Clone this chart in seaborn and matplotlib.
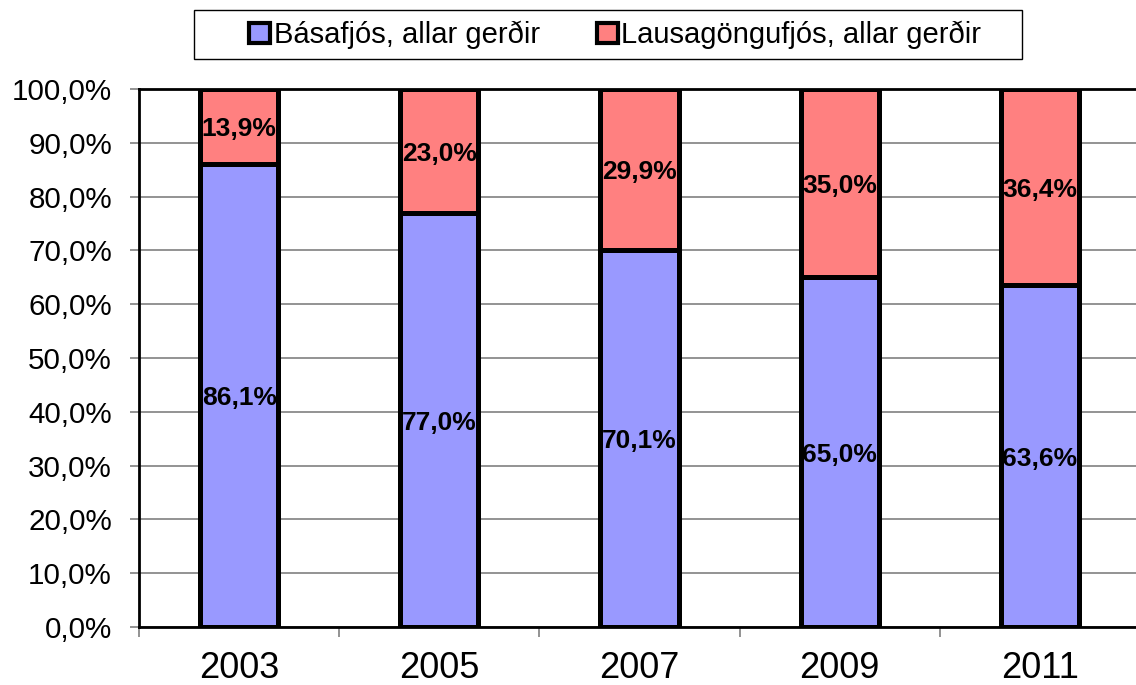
import numpy as np
import pandas as pd
import matplotlib
matplotlib.use("Agg")
import matplotlib.pyplot as plt
import matplotlib.ticker as mticker
from matplotlib.patches import Patch, Rectangle
import seaborn as sns

# ── Data ──────────────────────────────────────────────────────────────────────
years = ["2003", "2005", "2007", "2009", "2011"]
basafjos = [86.1, 77.0, 70.1, 65.0, 63.6]
lausagongufjos = [13.9, 23.0, 29.9, 35.0, 36.4]
series_names = ["Básafjós, allar gerðir", "Lausagöngufjós, allar gerðir"]

BLUE = "#9999FF"
RED = "#FF8080"
EDGE_W = 3.6

sns.set_theme(style="white")
plt.rcParams["font.family"] = ["Liberation Sans", "DejaVu Sans"]
plt.rcParams["text.color"] = "black"
plt.rcParams["xtick.color"] = "black"
plt.rcParams["ytick.color"] = "black"

df = pd.DataFrame({"year": years, "blue": basafjos, "red": lausagongufjos})
df["total"] = df["blue"] + df["red"]

fig = plt.figure(figsize=(11.36, 6.85), dpi=100)
ax = fig.add_axes([0.1224, 0.0847, 0.8811, 0.7853])

# stacked: draw the total (red) first, then the lower segment (blue) over it
sns.barplot(data=df, x="year", y="total", color=RED, width=0.39,
            edgecolor="black", linewidth=EDGE_W, saturation=1, ax=ax)
sns.barplot(data=df, x="year", y="blue", color=BLUE, width=0.39,
            edgecolor="black", linewidth=EDGE_W, saturation=1, ax=ax)

for i, (b, r) in enumerate(zip(basafjos, lausagongufjos)):
    for yc, v in [(b / 2, b), (b + r / 2, r)]:
        ax.annotate(f"{v:.1f}%".replace(".", ","), (i, yc), xytext=(0, -2),
                    textcoords="offset points", ha="center", va="center",
                    fontsize=19, fontweight="bold", color="black")

ax.set_xlim(-0.5, len(years) - 0.5)
ax.set_ylim(0, 100)
ax.set_xlabel("")
ax.set_ylabel("")

ax.yaxis.set_major_locator(mticker.MultipleLocator(10))
ax.yaxis.set_major_formatter(
    mticker.FuncFormatter(lambda v, _: f"{v:.1f}%".replace(".", ",")))
ax.grid(axis="y", color="#808080", linewidth=1.2)
ax.set_axisbelow(True)

ax.xaxis.set_minor_locator(mticker.FixedLocator(np.arange(-0.5, len(years), 1.0)))
ax.tick_params(axis="x", which="major", length=0, labelsize=26, pad=17,
               labelcolor="black")
ax.tick_params(axis="x", which="minor", length=7, width=1.2, color="#808080",
               direction="out", bottom=True)
ax.tick_params(axis="y", which="major", length=6.5, width=1.2, color="#808080",
               direction="out", left=True, labelsize=21.3, pad=13,
               labelcolor="black")

for side in ["left", "top", "bottom", "right"]:
    ax.spines[side].set_color("black")
    ax.spines[side].set_linewidth(2)

handles = [Patch(facecolor=BLUE, edgecolor="black", linewidth=3),
           Patch(facecolor=RED, edgecolor="black", linewidth=3)]
leg = fig.legend(handles, series_names, loc="center left",
                 bbox_to_anchor=(249 / 1136, 1 - 35 / 685), ncol=2, fontsize=21,
                 frameon=False, borderpad=0, borderaxespad=0,
                 handlelength=0.72, handleheight=0.72, handletextpad=0.12,
                 columnspacing=1.95)
for t in leg.get_texts():
    t.set_color("black")

# legend box (Excel-style, wider padding than matplotlib's frame allows)
fig.patches.append(Rectangle((194 / 1136, 1 - 59 / 685), 828 / 1136, 49 / 685,
                             transform=fig.transFigure, fill=False,
                             edgecolor="black", linewidth=1.0))

fig.savefig("out.png", dpi=100)
